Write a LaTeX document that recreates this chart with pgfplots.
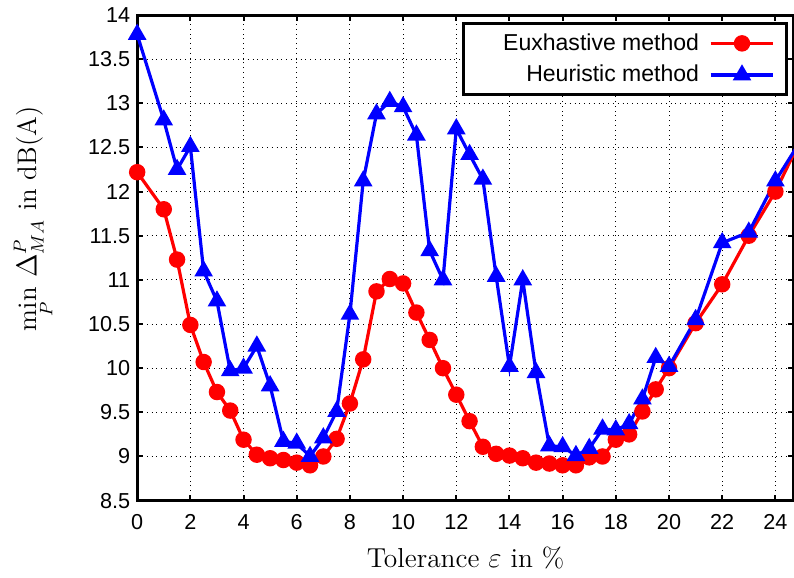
\documentclass[border=0pt]{standalone}
\usepackage{fontspec}
\setsansfont{Liberation Sans}
\usepackage{pgfplots}
\pgfplotsset{compat=1.18}
\begin{document}
\begin{tikzpicture}
\begin{axis}[
    scale only axis,
    width=328pt, height=242.5pt,
    xmin=0, xmax=24.7,
    ymin=8.5, ymax=14,
    xtick={0,2,...,24},
    ytick={8.5,9,...,14},
    yticklabel style={/pgf/number format/.cd, fixed, precision=1},
    /pgf/number format/assume math mode=true,
    ticklabel style={font=\sffamily\fontsize{10.8}{12}\selectfont},
    xticklabel style={yshift=-3.5pt},
    tick align=inside,
    major tick length=3pt,
    tick style={black, line width=1pt},
    axis line style={line width=1.5pt},
    grid=major,
    major grid style={black, dotted, line width=0.5pt},
    xlabel={Tolerance $\varepsilon$ in \%},
    xlabel style={at={(axis description cs:0.5,0)}, anchor=base, yshift=-33.5pt,
        font=\fontsize{13.7}{15}\selectfont},
    ylabel={$\min\limits_{P}\, \Delta^{P}_{MA}$ in dB(A)},
    ylabel style={at={(axis description cs:-0.157,0.58)}, anchor=center,
        font=\fontsize{13.4}{15}\selectfont},
    legend style={at={(axis description cs:0.9916,0.9856)}, anchor=north east,
        draw=black, line width=1.5pt,
        font=\sffamily\fontsize{11.5}{13}\selectfont, legend cell align=right,
        inner xsep=6pt, inner ysep=3pt, row sep=2pt, column sep=3pt},
    legend plot pos=right,
    legend image code/.code={\draw[mark repeat=2, mark phase=2] plot coordinates {(0cm,0cm) (0.55cm,0cm) (1.1cm,0cm)};},
    clip=true,
]
\addplot[red, line width=1.6pt, mark=*, mark size=3.3pt] coordinates {
(0,12.22) (1,11.80) (1.5,11.23) (2,10.49) (2.5,10.07) (3,9.73) (3.5,9.52) (4,9.19)
(4.5,9.02) (5,8.98) (5.5,8.96) (6,8.93) (6.5,8.90) (7,9.00) (7.5,9.20) (8,9.60)
(8.5,10.10) (9,10.87) (9.5,11.01) (10,10.96) (10.5,10.63) (11,10.32) (11.5,10.00)
(12,9.70) (12.5,9.40) (13,9.11) (13.5,9.03) (14,9.01) (14.5,8.98) (15,8.93)
(15.5,8.92) (16,8.90) (16.5,8.90) (17,8.99) (17.5,9.00) (18,9.19) (18.5,9.25)
(19,9.51) (19.5,9.76) (20,10.00) (21,10.51) (22,10.95) (23,11.50) (24,12.00) (25,12.62)
};
\addlegendentry{\hspace*{12pt}Euxhastive method}
\addplot[blue, line width=1.6pt, mark=triangle*, mark size=3.8pt] coordinates {
(0,13.78) (1,12.81) (1.5,12.25) (2,12.51) (2.5,11.10) (3,10.76) (3.5,9.97) (4,10.00)
(4.5,10.25) (5,9.80) (5.5,9.17) (6,9.15) (6.5,9.00) (7,9.21) (7.5,9.51) (8,10.61)
(8.5,12.12) (9,12.88) (9.5,13.02) (10,12.96) (10.5,12.64) (11,11.33) (11.5,11.00)
(12,12.71) (12.5,12.42) (13,12.14) (13.5,11.04) (14,10.02) (14.5,11.00) (15,9.95)
(15.5,9.12) (16,9.11) (16.5,9.01) (17,9.09) (17.5,9.31) (18,9.30) (18.5,9.37)
(19,9.65) (19.5,10.12) (20,10.02) (21,10.55) (22,11.42) (23,11.54) (24,12.12) (25,12.60)
};
\addlegendentry{Heuristic method}
\end{axis}
\pgfresetboundingbox
\path[use as bounding box] ([shift={(-68.5pt,-38.5pt)}]current axis.south west) rectangle ([shift={(0pt,7.5pt)}]current axis.north east);
\end{tikzpicture}
\end{document}
